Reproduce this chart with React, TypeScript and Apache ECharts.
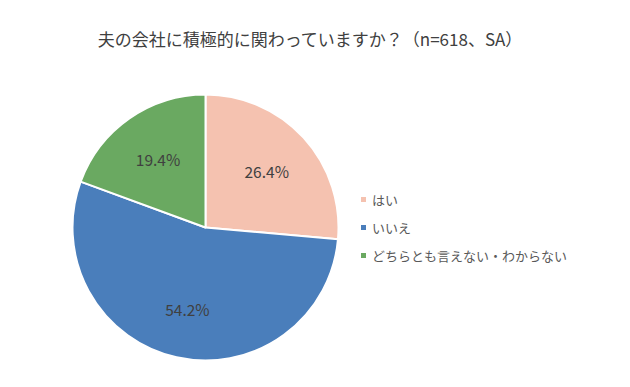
import React, { useEffect, useRef } from "react";
import * as echarts from "echarts";

const categories = ["はい", "いいえ", "どちらとも言えない・わからない"];
const values = [26.4, 54.2, 19.4];
const colors = ["#F5C2B0", "#4A7EBB", "#6AA961"];
const titleText = "夫の会社に積極的に関わっていますか？（n=618、SA）";

const FONT = "'Noto Sans CJK JP', 'Noto Sans', sans-serif";

export default function App() {
  const ref = useRef<HTMLDivElement>(null);
  useEffect(() => {
    if (!ref.current) return;
    const chart = echarts.init(ref.current, undefined, { renderer: "svg" });
    const data = categories.map((name, i) => ({
      name,
      value: values[i],
      itemStyle: { color: colors[i] },
    }));
    chart.setOption({
      animation: false,
      backgroundColor: "#ffffff",
      title: {
        text: titleText,
        left: 305,
        textAlign: "center",
        top: 25,
        textStyle: { fontFamily: FONT, fontSize: 17, fontWeight: "normal", color: "#404040" },
      },
      legend: {
        orient: "vertical",
        left: 354,
        top: 188,
        icon: "rect",
        itemWidth: 7,
        itemHeight: 7,
        itemGap: 15,
        data: categories,
        textStyle: { fontFamily: FONT, fontSize: 13, color: "#595959" },
      },
      series: [
        {
          type: "pie",
          center: [205.5, 227.5],
          radius: [0, 133],
          startAngle: 90,
          clockwise: true,
          data,
          label: { show: false },
          labelLine: { show: false },
          itemStyle: { borderColor: "#ffffff", borderWidth: 2 },
        },
        {
          type: "pie",
          center: [205.5, 227.5],
          radius: [0, 160],
          startAngle: 90,
          clockwise: true,
          silent: true,
          legendHoverLink: false,
          data: categories.map((name, i) => ({ name, value: values[i] })),
          itemStyle: { color: "rgba(0,0,0,0)", borderWidth: 0 },
          label: {
            show: true,
            position: "inside",
            formatter: (p: any) => p.value.toFixed(1) + "%",
            fontFamily: FONT,
            fontSize: 15.5,
            color: "#404040",
          },
          labelLine: { show: false },
        },
      ],
    });
    return () => chart.dispose();
  }, []);
  return (
    <div
      ref={ref}
      style={{ position: "absolute", left: 0, top: 0, width: 630, height: 387 }}
    />
  );
}
